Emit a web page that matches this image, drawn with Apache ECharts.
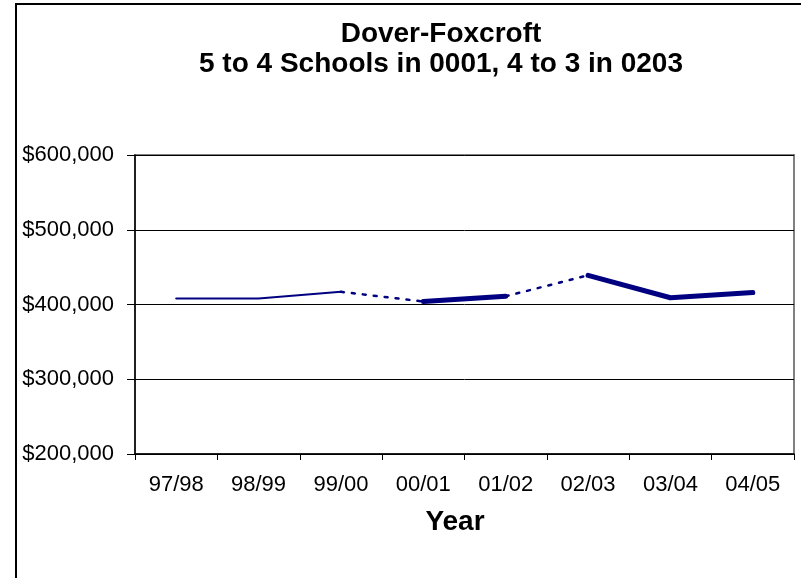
<!DOCTYPE html>
<html>
<head>
<meta charset="utf-8">
<script src="https://cdn.jsdelivr.net/npm/echarts@6/dist/echarts.min.js"></script>
<style>
  html, body { margin: 0; padding: 0; background: #fff; }
  #chart { width: 801px; height: 578px; }
</style>
</head>
<body>
<div id="chart"></div>
<script>
var categories = ['97/98', '98/99', '99/00', '00/01', '01/02', '02/03', '03/04', '04/05'];
var values = [408000, 408000, 417000, 404000, 411000, 439000, 409000, 416000];
// segment style per gap between consecutive years: 'thin', 'dotted', 'thick'
var segmentStyles = ['thin', 'thin', 'dotted', 'thick', 'dotted', 'thick', 'thick'];
var yTicks = [200000, 300000, 400000, 500000, 600000];

function fmtMoney(v) {
  return '$' + String(v).replace(/\B(?=(\d{3})+(?!\d))/g, ',');
}

// group consecutive segments of the same style into runs
var runs = [];
for (var i = 0; i < segmentStyles.length; i++) {
  var s = segmentStyles[i];
  if (runs.length && runs[runs.length - 1].style === s && runs[runs.length - 1].end === i) {
    runs[runs.length - 1].end = i + 1;
  } else {
    runs.push({ style: s, start: i, end: i + 1 });
  }
}

var styleMap = {
  thin:   { width: 2, type: 'solid' },
  thick:  { width: 5, type: 'solid' },
  dotted: { width: 2.5, type: [3, 8] }
};

var series = runs.map(function (r) {
  var data = values.map(function (v, idx) {
    return (idx >= r.start && idx <= r.end) ? v : null;
  });
  return {
    type: 'line',
    data: data,
    symbol: 'none',
    connectNulls: false,
    silent: true,
    lineStyle: { color: '#000080', width: styleMap[r.style].width, type: styleMap[r.style].type, cap: 'round' }
  };
});

var chart = echarts.init(document.getElementById('chart'), null, { renderer: 'canvas' });
chart.setOption({
  backgroundColor: '#ffffff',
  animation: false,
  title: {
    text: 'Dover-Foxcroft\n5 to 4 Schools in 0001, 4 to 3 in 0203',
    left: 441,
    top: 19,
    textAlign: 'center',
    padding: 0,
    textStyle: {
      fontFamily: 'Liberation Sans, Arial, sans-serif',
      fontWeight: 'bold',
      fontSize: 28,
      lineHeight: 30,
      color: '#000'
    }
  },
  graphic: [{
    type: 'rect',
    shape: { x: 16, y: 4, width: 900, height: 700 },
    style: { fill: 'none', stroke: '#000', lineWidth: 2 },
    silent: true
  }],
  grid: {
    left: 135, right: 7, top: 155, bottom: 124,
    show: true, borderColor: '#808080', borderWidth: 2, backgroundColor: 'transparent'
  },
  xAxis: {
    type: 'category',
    data: categories,
    boundaryGap: true,
    axisLine: { show: true, lineStyle: { color: '#000', width: 1.5 } },
    axisTick: { show: true, inside: false, length: 6, alignWithLabel: false, lineStyle: { color: '#000' } },
    axisLabel: {
      margin: 20, fontSize: 22, color: '#000', fontFamily: 'Liberation Sans, Arial, sans-serif', interval: 0
    },
    splitLine: { show: false },
    name: 'Year',
    nameLocation: 'middle',
    nameGap: 54,
    nameTextStyle: {
      fontSize: 28, fontWeight: 'bold', color: '#000', fontFamily: 'Liberation Sans, Arial, sans-serif',
      padding: [0, 19, 0, 0]
    }
  },
  yAxis: {
    type: 'value',
    min: yTicks[0],
    max: yTicks[yTicks.length - 1],
    interval: yTicks[1] - yTicks[0],
    axisLine: { show: true, lineStyle: { color: '#000', width: 1.5 } },
    axisTick: { show: true, inside: false, length: 8, lineStyle: { color: '#000' } },
    axisLabel: {
      margin: 21, fontSize: 22, color: '#000', fontFamily: 'Liberation Sans, Arial, sans-serif',
      formatter: function (v) { return fmtMoney(v); }
    },
    splitLine: { show: true, lineStyle: { color: '#000', width: 1 } }
  },
  series: series
});
</script>
</body>
</html>
